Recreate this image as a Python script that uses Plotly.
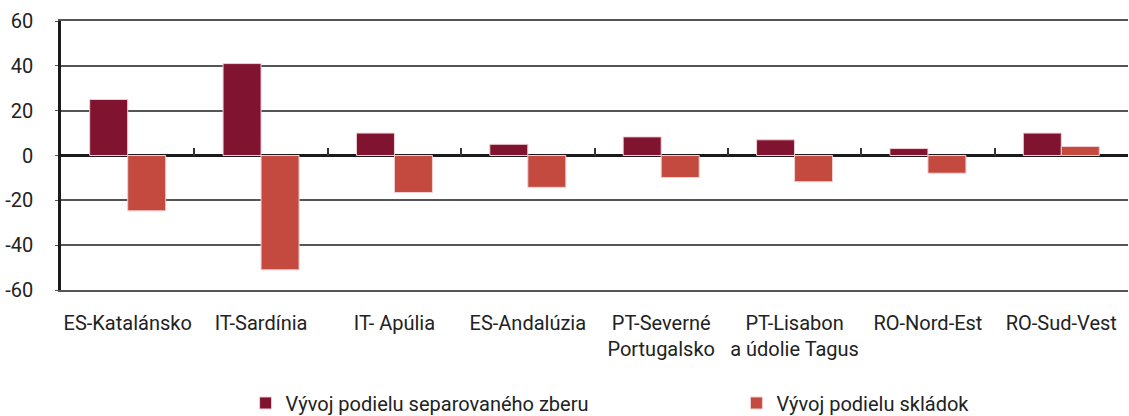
import plotly.graph_objects as go

regions = ["ES-Katalánsko", "IT-Sardínia", "IT- Apúlia", "ES-Andalúzia",
           "PT-Severné<br>Portugalsko", "PT-Lisabon<br>a údolie Tagus",
           "RO-Nord-Est", "RO-Sud-Vest"]
separovany_zber = [25, 41, 10, 5, 8.3, 7, 3.1, 10]
skladky = [-24.7, -51, -16.5, -14.2, -9.8, -11.7, -7.9, 4]
y_ticks = [-60, -40, -20, 0, 20, 40, 60]
y_ticklabels = ["-60", "-40", "-20", "0", "20", "40", "60"]

FONT = "Liberation Sans Narrow, Roboto, sans-serif"

fig = go.Figure()
fig.add_trace(go.Bar(
    x=regions, y=separovany_zber, name="Vývoj podielu separovaného zberu",
    marker=dict(color="#80132F", line=dict(color="#f2d0d4", width=1)),
    legend="legend"
))
fig.add_trace(go.Bar(
    x=regions, y=skladky, name="Vývoj podielu skládok",
    marker=dict(color="#C44A40", line=dict(color="#f2d0d4", width=1)),
    legend="legend2"
))
# invisible helper trace so the boundary ticks on the zero line can be drawn
fig.add_trace(go.Bar(
    x=regions, y=[0] * len(regions), xaxis="x2", showlegend=False,
    hoverinfo="skip", marker=dict(opacity=0)
))

legend_style = dict(
    orientation="h", xanchor="left", y=-0.42, yanchor="middle",
    font=dict(family=FONT, size=20), itemwidth=30,
)

fig.update_layout(
    width=1129, height=416,
    barmode="group", bargap=0.43, bargroupgap=0,
    font=dict(family=FONT, size=20, color="#222"),
    margin=dict(l=61, r=1, t=21, b=126, autoexpand=False),
    paper_bgcolor="white", plot_bgcolor="white",
    xaxis=dict(
        showgrid=False, showline=True, mirror=True,
        linecolor="#555", linewidth=2, ticks="",
        ticklabelstandoff=14, automargin=False,
    ),
    xaxis2=dict(
        overlaying="x", matches="x", anchor="free", position=0.5,
        side="bottom", ticks="inside", ticklen=8, tickwidth=2,
        tickcolor="#333", tickson="boundaries",
        showticklabels=False, showgrid=False, showline=False,
    ),
    yaxis=dict(
        range=[-60, 60], tickvals=y_ticks, ticktext=y_ticklabels,
        showgrid=True, gridcolor="#555", gridwidth=2,
        zeroline=True, zerolinecolor="#1a1a1a", zerolinewidth=3,
        showline=True, linecolor="#1a1a1a", linewidth=2.5,
        ticks="outside", ticklen=3, tickcolor="#555",
        ticklabelstandoff=18, automargin=False,
    ),
    legend=dict(x=0.173, **legend_style),
    legend2=dict(x=0.633, **legend_style),
)

fig.write_html("out.html", config={"displayModeBar": False},
               post_script="document.body.style.margin='0';")
